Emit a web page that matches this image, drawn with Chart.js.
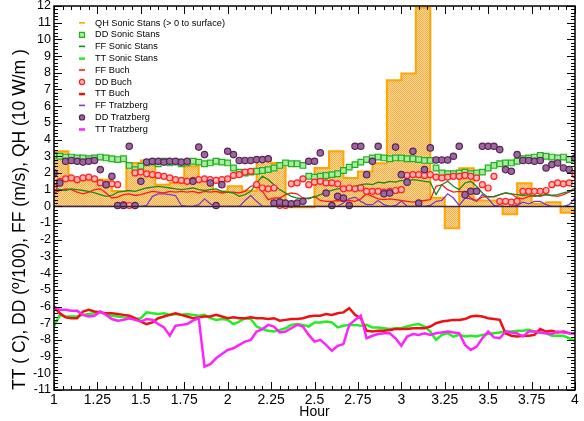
<!DOCTYPE html>
<html>
<head>
<meta charset="utf-8">
<script src="https://cdn.jsdelivr.net/npm/chart.js@4.4.0/dist/chart.umd.min.js"></script>
<style>
html, body { margin: 0; padding: 0; background: #fff; }
canvas { display: block; }
</style>
</head>
<body>
<canvas id="chart" width="584" height="421"></canvas>
<script>
// axis ticks
var xTicks = [1, 1.25, 1.5, 1.75, 2, 2.25, 2.5, 2.75, 3, 3.25, 3.5, 3.75, 4];
var yTicks = [-11, -10, -9, -8, -7, -6, -5, -4, -3, -2, -1, 0, 1, 2, 3, 4, 5, 6, 7, 8, 9, 10, 11, 12];

// QH Sonic Stans, 5 minute blocks (10 W/m2)
var QH = [3.3, 1.55, 1.55, 1.6, 0.92, 2.6, 2.75, 1.3, 1.4, 2.4, 1.55, 0.9,
    1.2, 0.94, 2.88, 2.6, -0.05, -0.05, 2.3, 3.3, 1.7, 2.08, 2.58, 7.55,
    7.95, 11.9, 0.52, -1.31, 2.28, 0.35, 0.35, -0.47, 1.38, 0.15, 0.25, -0.38];

// 2 minute samples from hour 1 to 4
var DD_SONIC = [3.05, 3.0, 2.95, 2.95, 2.9, 2.9, 2.85, 2.9, 2.95, 2.9, 2.85,
    2.8, 2.85, 2.45, 2.2, 2.4,
    2.6, 2.65, 2.55, 2.7, 2.6, 2.65, 2.55, 2.6, 2.7, 2.65, 2.55, 2.6, 2.7, 2.65, 2.6,
    2.3, 2.05, 2.0, 2.05, 2.1, 2.15, 2.2, 2.3, 2.45, 2.6, 2.55, 2.55, 2.45,
    1.8, 1.75, 1.8, 1.85, 1.9, 1.95, 2.15, 2.35, 2.5, 2.65, 2.8, 2.9,
    2.95, 2.9, 2.85, 2.9, 2.9, 2.85, 2.85, 2.8, 2.75, 2.75, 2.3,
    2.0, 1.95, 1.95, 2.0, 2.05, 1.95, 2.0, 2.05, 2.3, 2.45, 2.55, 2.6, 2.6, 2.7,
    2.85, 2.9, 2.95, 3.05, 3.0, 2.95, 2.9, 2.95, 2.8, 2.75];

var FF_SONIC = [1.1, 1.0, 0.95, 1.05, 1.0, 0.95, 0.9, 0.8, 0.7, 0.6, 0.65,
    0.85, 0.9, 0.95, 0.9, 1.0, 1.1, 1.15, 1.2, 1.15, 1.1,
    1.05, 1.0, 1.05, 1.1, 1.0, 0.95, 1.0, 1.05, 0.9, 0.85,
    0.8, 0.6, 0.7, 0.9, 1.4, 1.8, 1.6, 1.3, 1.0, 0.8, 0.6, 0.5, 0.45, 0.5,
    0.55, 0.7, 0.85, 0.95, 1.05, 1.1, 1.15, 1.2, 1.3,
    1.35, 1.3, 1.45, 1.4, 1.5, 1.45, 1.55, 1.5, 1.6, 1.55, 1.5, 1.45, 0.7,
    1.3, 1.5, 1.2, 1.0, 1.4, 1.5, 1.2, 0.8, 0.55, 0.6, 0.7, 0.8, 0.75, 0.7,
    0.65, 0.7, 0.6, 0.65, 0.7, 0.65, 0.7, 0.8, 0.9, 1.1];

var TT_SONIC = [-7.2, -6.5, -6.6, -6.6, -6.6, -6.5, -6.45, -6.4, -6.3, -6.5,
    -6.55, -6.6, -6.65, -6.7, -6.75, -6.7, -6.35, -6.4, -6.45, -6.4,
    -6.5, -6.45, -6.5, -6.45, -6.5, -6.55, -6.5, -6.7, -6.8, -6.75,
    -6.8, -7.05, -6.9, -6.7, -6.75, -7.2, -7.35, -7.45, -7.5, -7.4,
    -7.3, -7.1, -7.05, -7.1, -7.2, -6.95, -6.95, -6.9, -6.95, -7.25,
    -7.15, -7.1, -7.1, -7.15, -7.1, -7.25, -7.25, -7.3, -7.35, -7.3,
    -7.3, -7.2, -7.1, -7.05, -7.2, -7.5, -8.0, -7.7, -7.6, -7.8,
    -7.7, -7.8, -7.75, -7.8, -7.7, -7.65, -7.6, -7.55, -7.5, -7.5,
    -7.45, -7.45, -7.4, -7.5, -7.55, -7.6, -7.75, -7.75, -7.75, -7.9, -8.05];

var FF_BUCH = [0.8, 0.95, 1.05, 1.0, 0.85, 0.75, 0.85, 1.0, 1.05, 0.8,
    0.5, 0.55, 0.7, 0.75, 0.65, 0.7, 0.8, 0.9, 0.85, 0.8,
    0.9, 0.85, 0.9, 0.85, 0.9, 0.8, 0.9, 0.85, 0.9, 0.8,
    0.85, 0.85, 0.8, 0.9, 1.2, 1.3, 0.9, 0.4, 0.5, 0.5,
    0.7, 0.8, 0.75, 0.5, 0.45, 0.6, 0.35, 0.3, 0.3, 0.35,
    0.3, 0.35, 0.3, 0.45, 0.75, 0.6, 0.45, 0.4, 0.45, 0.4,
    0.35, 0.3, 0.25, 0.3, 0.35, 0.4, 1.2, 1.3, 1.0, 0.85,
    0.9, 0.85, 0.5, 0.35, 0.55, 0.6, 0.55, 0.7, 0.8, 0.75,
    0.5, 0.45, 0.6, 0.65, 0.6, 0.7, 0.65, 0.6, 0.7, 0.85, 1.0];

var DD_BUCH = [1.15, 1.5, 1.65, 1.7, 1.6, 1.7, 1.75, 1.65, 1.4, 1.3,
    1.35, 1.3, 0.1, 0.05, 2.0, 2.05, 1.95, 1.9, 1.85, 1.8,
    1.7, 1.6, 1.55, 1.5, 1.55, 1.6, 1.65, 1.6, 1.55, 1.6,
    1.65, 1.85, 1.9, 2.05, 2.1, 1.3, 1.1, 1.05, 1.1, 0.05,
    0.05, 1.35, 1.4, 1.65, 1.3, 1.45, 1.5, 1.4, 1.4, 1.35,
    1.05, 1.1, 1.05, 1.1, 0.9, 0.9, 0.9, 0.85, 0.9, 0.95,
    1.0, 1.85, 1.9, 1.9, 1.85, 1.9, 1.75, 1.7, 1.75, 1.8,
    1.8, 1.85, 1.8, 1.7, 1.3, 1.1, 1.8, 0.3, 0.3, 0.25,
    0.3, 0.9, 0.9, 0.9, 0.9, 0.95, 1.3, 1.4, 1.35, 1.4, 1.9];

var TT_BUCH = [-6.0, -6.4, -6.65, -6.7, -6.7, -6.3, -6.2, -6.3, -6.35, -6.4,
    -6.4, -6.45, -6.5, -6.55, -6.7, -6.9, -7.05, -6.95, -6.7, -6.6,
    -6.5, -6.4, -6.5, -6.6, -6.7, -6.65, -6.6, -6.6, -6.5, -6.6,
    -6.7, -6.65, -6.7, -6.7, -6.65, -6.7, -6.7, -6.75, -6.7, -6.85,
    -6.8, -6.75, -6.75, -6.7, -6.6, -6.55, -6.55, -6.45, -6.5, -6.4,
    -6.35, -6.1, -6.5, -6.7, -7.45, -7.5, -7.45, -7.45, -7.4, -7.35,
    -7.35, -7.35, -7.3, -7.3, -7.3, -7.2, -7.0, -6.9, -6.85, -6.8,
    -6.8, -6.75, -6.6, -6.55, -6.6, -6.7, -6.75, -6.8, -7.6, -7.75,
    -7.8, -7.75, -7.75, -7.7, -7.35, -7.5, -7.45, -7.55, -7.5, -7.6, -7.6];

var FF_TRATZ = [0, 0, 0, 0, 0, 0, 0, 0, 0, 0,
    0, 0, 0, 0, 0, 0, 0.05, 0.6, 0.75, 0.75,
    0.7, 0.65, 0.05, 0, 0, 0.1, 0.45, 0.15, 0, 0,
    0, 0, 0, 0.35, 0.65, 0.3, 0, 0, 0, 0,
    0, 0, 0, 0, 0, 0, 0, 0, 0, 0,
    0.2, 0.45, 0.55, 0.3, 0.1, 0.1, 0.35, 0.1, 0, 0.05,
    0.3, 0, 0, 0, 0, 0.05, 0.3, 0.35, 0.75, 0.5,
    0.05, 0.5, 0.45, 0.3, 0.7, 0.45, 0.05, 0, 0, 0,
    0.05, 0.25, 0.15, 0.3, 0.3, 0.1, 0, 0, 0, 0.1, 0.5];

var DD_TRATZ = [2.0, 1.4, 2.7, 2.75, 2.7, 2.65, 2.7, 2.75, 2.2, 1.3,
    1.8, 0.05, 0.05, 3.6, 0.05, 1.5, 2.65, 2.7, 2.7, 2.65,
    2.7, 2.7, 2.65, 2.7, 1.5, 3.55, 3.1, 1.4, 0.05, 1.3,
    3.3, 3.1, 2.75, 2.75, 2.75, 2.8, 2.8, 2.85, 0.2, 0.25,
    0.2, 0.15, 0.2, 0.3, 2.7, 2.7, 3.2, 0.8, 0.05, 0.6,
    0.5, 0.05, 3.6, 3.6, 1.9, 2.7, 3.6, 0.75, 0.8, 3.55,
    1.9, 1.45, 3.3, 0.2, 2.2, 3.5, 2.78, 2.78, 2.78, 3.0,
    3.6, 0.7, 0.9, 0.9, 3.6, 3.6, 3.6, 3.4, 2.2, 2.1,
    3.1, 2.75, 2.75, 2.7, 2.75, 2.3, 2.5, 2.6, 2.3, 2.2, 2.9];

var TT_TRATZ = [-6.0, -6.2, -6.2, -6.25, -6.25, -6.5, -6.6, -6.55, -6.3, -6.5,
    -6.75, -6.85, -6.8, -6.7, -6.8, -6.9, -6.75, -6.8, -7.05, -7.25,
    -7.75, -7.15, -7.1, -7.05, -6.85, -6.7, -9.6, -9.45, -9.1, -8.85,
    -8.6, -8.5, -8.3, -8.1, -8.0, -7.5, -7.35, -7.1, -7.2, -7.55,
    -7.5, -7.3, -7.1, -7.2, -7.7, -8.1, -8.0, -8.3, -8.65, -8.35,
    -8.25, -7.1, -6.8, -6.55, -7.9, -7.75, -7.65, -7.6, -7.6, -7.9,
    -8.35, -7.8, -7.65, -7.7, -7.6, -7.7, -7.6, -7.55, -7.5, -7.55,
    -7.6, -8.3, -8.6, -8.4, -7.9, -7.5, -7.85, -7.9, -7.5, -7.55,
    -7.6, -7.8, -7.5, -7.5, -7.55, -7.6, -7.65, -7.5, -7.55, -7.6, -7.6];

var hours = DD_SONIC.map(function (_, i) { return 1 + i / 30; });
var qhHours = QH.map(function (_, i) { return 1 + i / 12; });

function pts(xs, ys) {
    return ys.map(function (v, i) { return {x: xs[i], y: v}; });
}

var qhPoints = pts(qhHours, QH);
qhPoints.push({x: 4, y: QH[QH.length - 1]});

// checker fill like the hatched QH area
function qhPattern() {
    var c = document.createElement('canvas');
    c.width = 2; c.height = 2;
    var g = c.getContext('2d');
    g.fillStyle = '#fed9a2';
    g.fillRect(0, 0, 2, 2);
    g.fillStyle = '#f7ad3c';
    g.fillRect(0, 0, 1, 1);
    g.fillRect(1, 1, 1, 1);
    return g.createPattern(c, 'repeat');
}

var FONT = "'Liberation Sans', Arial, sans-serif";

function lineSet(label, data, color, width, order) {
    return {label: label, data: data, borderColor: color, backgroundColor: color,
        borderWidth: width, pointRadius: 0, tension: 0, fill: false, order: order};
}
function dotSet(label, data, style, r, border, fillc, order) {
    return {label: label, data: data, showLine: false, pointStyle: style,
        pointRadius: r, pointBorderWidth: 1.2, borderColor: border,
        backgroundColor: fillc, pointBackgroundColor: fillc, pointBorderColor: border, order: order};
}

var datasets = [
    {label: 'QH Sonic Stans (> 0 to surface)', data: qhPoints, stepped: 'before',
        fill: 'origin', backgroundColor: qhPattern(), borderColor: '#ffa500',
        borderWidth: 2, pointRadius: 0, order: 20},
    dotSet('DD Sonic Stans', pts(hours, DD_SONIC), 'rect', 4, '#22b022', '#a8eca0', 8),
    lineSet('FF Sonic Stans', pts(hours, FF_SONIC), '#1a8a1a', 1.3, 10),
    lineSet('TT Sonic Stans', pts(hours, TT_SONIC), '#22ee22', 2.5, 3),
    lineSet('FF Buch', pts(hours, FF_BUCH), '#ff1a1a', 1.3, 11),
    dotSet('DD Buch', pts(hours, DD_BUCH), 'circle', 3, '#ff2020', '#ffb4b4', 7),
    lineSet('TT Buch', pts(hours, TT_BUCH), '#ee1111', 2.5, 2),
    lineSet('FF Tratzberg', pts(hours, FF_TRATZ), '#7a3cc8', 1.3, 12),
    dotSet('DD Tratzberg', pts(hours, DD_TRATZ), 'circle', 3.2, '#5a245a', '#9c689c', 6),
    lineSet('TT Tratzberg', pts(hours, TT_TRATZ), '#ff22ff', 2.5, 1)
];

// frame, inward tick marks, zero line and legend
var framePlugin = {
    id: 'frame',
    afterDatasetsDraw: function (chart) {
        var ctx = chart.ctx, a = chart.chartArea;
        var xs = chart.scales.x, ys = chart.scales.y;
        ctx.save();
        var y0 = Math.round(ys.getPixelForValue(0)) + 0.5;
        ctx.strokeStyle = '#3a2438';
        ctx.lineWidth = 1.5;
        ctx.beginPath(); ctx.moveTo(a.left, y0); ctx.lineTo(a.right, y0); ctx.stroke();

        ctx.strokeStyle = '#000';
        ctx.lineWidth = 1;
        ctx.beginPath();
        var i, p, len;
        for (i = 0; i <= 60; i++) {
            p = Math.round(xs.getPixelForValue(1 + i * 0.05)) + 0.5;
            len = i % 5 === 0 ? 8 : 4;
            ctx.moveTo(p, a.bottom); ctx.lineTo(p, a.bottom - len);
            ctx.moveTo(p, a.top); ctx.lineTo(p, a.top + len);
        }
        for (i = 0; i <= 115; i++) {
            p = Math.round(ys.getPixelForValue(-11 + i * 0.2)) + 0.5;
            len = i % 5 === 0 ? 8 : 4;
            ctx.moveTo(a.left, p); ctx.lineTo(a.left + len, p);
            ctx.moveTo(a.right, p); ctx.lineTo(a.right - len, p);
        }
        ctx.stroke();
        ctx.lineWidth = 1.5;
        ctx.strokeRect(a.left, a.top, a.right - a.left, a.bottom - a.top);

        // legend
        ctx.font = '9.2px ' + FONT;
        ctx.textBaseline = 'middle';
        ctx.textAlign = 'left';
        chart.data.datasets.forEach(function (ds, k) {
            var ly = 23 + k * 11.8, lx = 82;
            if (ds.showLine === false) {
                ctx.fillStyle = ds.pointBackgroundColor;
                ctx.strokeStyle = ds.pointBorderColor;
                ctx.lineWidth = 1.2;
                ctx.beginPath();
                if (ds.pointStyle === 'rect') ctx.rect(lx - 2.5, ly - 2.5, 5, 5);
                else ctx.arc(lx, ly, 2.6, 0, Math.PI * 2);
                ctx.fill(); ctx.stroke();
            } else {
                ctx.fillStyle = ds.borderColor;
                ctx.fillRect(lx - 3, ly - 1, 6, ds.borderWidth > 2 ? 2.5 : 1.6);
            }
            ctx.fillStyle = '#000';
            ctx.fillText(ds.label, 95, ly);
        });
        ctx.restore();
    }
};

var chart = new Chart(document.getElementById('chart'), {
    type: 'line',
    data: {datasets: datasets},
    options: {
        responsive: false,
        animation: false,
        layout: {padding: {top: 6, right: 9, left: 0, bottom: 0}},
        plugins: {legend: {display: false}, tooltip: {enabled: false}},
        scales: {
            x: {
                type: 'linear', min: 1, max: 4,
                grid: {display: false, drawTicks: false},
                border: {display: false},
                afterBuildTicks: function (s) { s.ticks = xTicks.map(function (v) { return {value: v}; }); },
                afterFit: function (s) { s.height = 31; s.paddingLeft = 0; s.paddingRight = 0; },
                ticks: {
                    color: '#000', padding: 2, maxRotation: 0, autoSkip: false,
                    font: {family: FONT, size: 14},
                    callback: function (v) { return String(+v.toFixed(2)); }
                },
                title: {display: true, text: 'Hour', color: '#000',
                    font: {family: FONT, size: 14}, padding: {top: 0, bottom: 0}}
            },
            y: {
                min: -11, max: 12,
                grid: {display: false, drawTicks: false},
                border: {display: false},
                afterBuildTicks: function (s) { s.ticks = yTicks.map(function (v) { return {value: v}; }); },
                afterFit: function (s) { s.width = 54; s.paddingTop = 0; s.paddingBottom = 0; },
                ticks: {color: '#000', padding: 3, autoSkip: false, font: {family: FONT, size: 12.5}},
                title: {display: true, align: 'start', color: '#000',
                    text: 'TT ( C), DD (º/100), FF (m/s), QH (10 W/m )',
                    font: {family: FONT, size: 17.5}, padding: {top: 10, bottom: 0}}
            }
        }
    },
    plugins: [framePlugin]
});
</script>
</body>
</html>
